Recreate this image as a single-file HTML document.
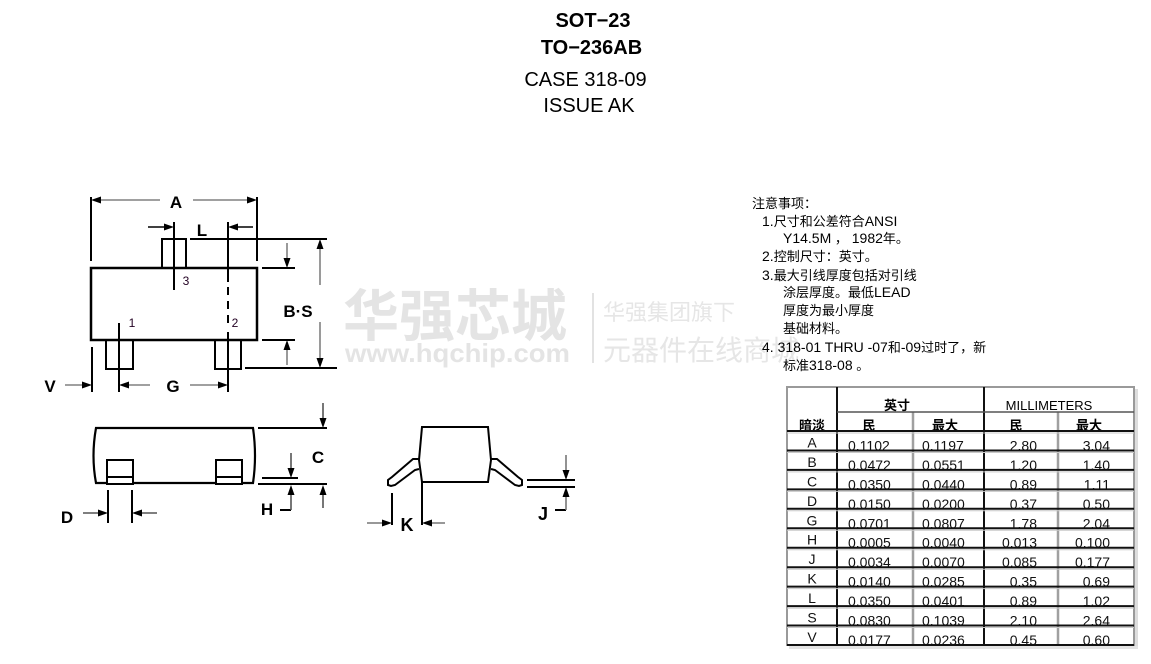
<!DOCTYPE html>
<html><head><meta charset="utf-8">
<style>
html,body{margin:0;padding:0;background:#fff;}
body{width:1151px;height:664px;overflow:hidden;}
svg{display:block;}
</style></head>
<body>
<svg width="1151" height="664" viewBox="0 0 1151 664" xmlns="http://www.w3.org/2000/svg">
<!-- watermark -->
<g font-family="'Noto Sans CJK SC','WenQuanYi Zen Hei',sans-serif">
  <text x="343" y="336" font-size="56" font-weight="bold" fill="#e4e4e4">华强芯城</text>
  <text x="345" y="362" font-size="26" font-weight="bold" fill="#e4e4e4" font-family="'Liberation Sans',sans-serif" textLength="225" lengthAdjust="spacingAndGlyphs">www.hqchip.com</text>
  <rect x="592" y="293" width="2" height="70" fill="#e2e2e2"/>
  <text x="603" y="320" font-size="22" fill="#e6e6e6">华强集团旗下</text>
  <text x="603" y="360" font-size="28" fill="#e6e6e6">元器件在线商城</text>
</g>

<!-- titles -->
<g font-family="'Liberation Sans',sans-serif" fill="#000" text-anchor="middle">
  <text x="593" y="27" font-size="20" font-weight="bold">SOT−23</text>
  <text x="591.5" y="54" font-size="20" font-weight="bold">TO−236AB</text>
  <text x="585.5" y="86" font-size="20">CASE 318-09</text>
  <text x="589" y="112" font-size="20">ISSUE AK</text>
</g>

<!-- ===== TOP VIEW ===== -->
<g fill="none" stroke="#000">
  <rect x="91" y="268" width="166" height="72" stroke-width="2.5"/>
  <rect x="162" y="239" width="24" height="29" stroke-width="2"/>
  <rect x="106" y="340" width="27" height="29" stroke-width="2"/>
  <rect x="215" y="340" width="26" height="29" stroke-width="2"/>
  <line x1="91" y1="197" x2="91" y2="261" stroke-width="2"/>
  <line x1="257" y1="197" x2="257" y2="261" stroke-width="2"/>
  <line x1="174" y1="222" x2="174" y2="290" stroke-width="2"/>
  <line x1="228" y1="222" x2="228" y2="282" stroke-width="2"/>
  <line x1="228" y1="287" x2="228" y2="295" stroke-width="2"/>
  <line x1="228" y1="301" x2="228" y2="309" stroke-width="2"/>
  <line x1="228" y1="315" x2="228" y2="323" stroke-width="2"/>
  <line x1="228" y1="332" x2="228" y2="392" stroke-width="2"/>
  <line x1="190" y1="239" x2="327" y2="239" stroke-width="2"/>
  <line x1="262" y1="268" x2="295" y2="268" stroke-width="2"/>
  <line x1="262" y1="340" x2="295" y2="340" stroke-width="2"/>
  <line x1="245" y1="368" x2="337" y2="368" stroke-width="2"/>
  <line x1="119" y1="323" x2="119" y2="392" stroke-width="2"/>
  <line x1="92" y1="347" x2="92" y2="392" stroke-width="2"/>
</g>
<g stroke="#808080" stroke-width="1.6" fill="none">
  <line x1="95" y1="200" x2="160" y2="200"/>
  <line x1="193" y1="200" x2="253" y2="200"/>
  <line x1="148" y1="227" x2="170" y2="227" stroke="#000"/>
  <line x1="253" y1="227" x2="232" y2="227" stroke="#000"/>
  <line x1="287" y1="243" x2="287" y2="262"/>
  <line x1="287" y1="365" x2="287" y2="346"/>
  <line x1="320" y1="245" x2="320" y2="285"/>
  <line x1="320" y1="322" x2="320" y2="362"/>
  <line x1="65" y1="385" x2="88" y2="385"/>
  <line x1="123" y1="385" x2="150" y2="385"/>
  <line x1="190" y1="385" x2="224" y2="385"/>
</g>
<g fill="#000">
  <polygon points="91,200 101,196.5 101,203.5"/>
  <polygon points="257,200 247,196.5 247,203.5"/>
  <polygon points="174,227 164,223.5 164,230.5"/>
  <polygon points="228,227 238,223.5 238,230.5"/>
  <polygon points="287,268 283.5,258 290.5,258"/>
  <polygon points="287,340 283.5,350 290.5,350"/>
  <polygon points="320,239 316.5,249 323.5,249"/>
  <polygon points="320,368 316.5,358 323.5,358"/>
  <polygon points="92,385 82,381.5 82,388.5"/>
  <polygon points="119,385 129,381.5 129,388.5"/>
  <polygon points="228,385 218,381.5 218,388.5"/>
</g>
<g font-family="'Liberation Sans',sans-serif" font-weight="bold" font-size="17" fill="#000" text-anchor="middle">
  <text x="176" y="208">A</text>
  <text x="202" y="236">L</text>
  <text x="298" y="317">B·S</text>
  <text x="50" y="392">V</text>
  <text x="173" y="392">G</text>
</g>
<g font-family="'Liberation Sans',sans-serif" font-size="12" fill="#202" text-anchor="middle">
  <text x="186" y="285">3</text>
  <text x="132" y="327">1</text>
  <text x="235" y="327">2</text>
</g>

<!-- ===== SIDE VIEW ===== -->
<g fill="none" stroke="#000" stroke-width="2">
  <path d="M96,428 L253,428 Q257,456 253,483 L96,483 Q91,456 96,428 Z" stroke-width="2.2"/>
  <rect x="107" y="460" width="26" height="24" fill="#fff"/>
  <line x1="107" y1="477" x2="133" y2="477"/>
  <rect x="216" y="460" width="26" height="24" fill="#fff"/>
  <line x1="216" y1="477" x2="242" y2="477"/>
  <line x1="258" y1="428" x2="327" y2="428"/>
  <line x1="258" y1="484" x2="327" y2="484"/>
  <line x1="262" y1="478" x2="298" y2="478"/>
  <line x1="280" y1="510" x2="291" y2="510"/>
  <line x1="108" y1="490" x2="108" y2="523"/>
  <line x1="132" y1="490" x2="132" y2="523"/>
</g>
<g stroke="#555" stroke-width="1.6" fill="none">
  <line x1="323" y1="403" x2="323" y2="422"/>
  <line x1="323" y1="508" x2="323" y2="491"/>
  <line x1="291" y1="453" x2="291" y2="472"/>
  <line x1="291" y1="510" x2="291" y2="491"/>
  <line x1="83" y1="513" x2="102" y2="513"/>
  <line x1="157" y1="513" x2="138" y2="513"/>
</g>
<g fill="#000">
  <polygon points="323,428 319.5,418 326.5,418"/>
  <polygon points="323,485 319.5,495 326.5,495"/>
  <polygon points="291,478 287.5,468 294.5,468"/>
  <polygon points="291,485 287.5,495 294.5,495"/>
  <polygon points="108,513 98,509.5 98,516.5"/>
  <polygon points="132,513 142,509.5 142,516.5"/>
</g>
<g font-family="'Liberation Sans',sans-serif" font-weight="bold" font-size="17" fill="#000" text-anchor="middle">
  <text x="318" y="463">C</text>
  <text x="267" y="515">H</text>
  <text x="67" y="523">D</text>
</g>

<!-- ===== END VIEW ===== -->
<g fill="none" stroke="#000" stroke-width="2">
  <path d="M422,427 L488,427 L491,460 L488,482 L422,482 L419,460 Z"/>
  <path d="M419,459 L413,459 L392,477 L388,480 L388,485 L391,486 L395,485 L415,470 L419,469"/>
  <path d="M491,459 L497,459 L518,477 L522,480 L522,485 L519,486 L515,485 L495,470 L491,469"/>
  <line x1="392" y1="493" x2="392" y2="525"/>
  <line x1="422" y1="482" x2="422" y2="525"/>
  <line x1="527" y1="480" x2="575" y2="480"/>
  <line x1="527" y1="487" x2="575" y2="487"/>
  <line x1="555" y1="510" x2="566" y2="510"/>
</g>
<g stroke="#777" stroke-width="1.6" fill="none">
  <line x1="367" y1="523" x2="386" y2="523"/>
  <line x1="445" y1="523" x2="428" y2="523"/>
  <line x1="566" y1="455" x2="566" y2="474"/>
  <line x1="566" y1="510" x2="566" y2="493"/>
</g>
<g fill="#000">
  <polygon points="392,523 382,519.5 382,526.5"/>
  <polygon points="422,523 432,519.5 432,526.5"/>
  <polygon points="566,480 562.5,470 569.5,470"/>
  <polygon points="566,487 562.5,497 569.5,497"/>
</g>
<g font-family="'Liberation Sans',sans-serif" font-size="18" font-weight="bold" fill="#000" text-anchor="middle">
  <text x="407" y="531">K</text>
  <text x="543" y="520">J</text>
</g>

<!-- ===== NOTES ===== -->
<g font-family="'Liberation Sans','Noto Sans CJK SC',sans-serif" font-size="13" fill="#000">
  <text x="752" y="208">注意事项：</text>
  <text x="762" y="226"><tspan font-size="14">1.</tspan>尺寸和公差符合<tspan font-size="14">ANSI</tspan></text>
  <text x="783" y="243"><tspan font-size="14">Y14.5M</tspan> ，<tspan font-size="14"> 1982</tspan>年。</text>
  <text x="762" y="261"><tspan font-size="14">2.</tspan>控制尺寸：英寸。</text>
  <text x="762" y="280"><tspan font-size="14">3.</tspan>最大引线厚度包括对引线</text>
  <text x="783" y="297">涂层厚度。最低<tspan font-size="14">LEAD</tspan></text>
  <text x="783" y="315">厚度为最小厚度</text>
  <text x="783" y="333">基础材料。</text>
  <text x="762" y="352"><tspan font-size="14">4. 318-01 THRU -07</tspan>和<tspan font-size="14">-09</tspan>过时了，新</text>
  <text x="783" y="370">标准<tspan font-size="14">318-08</tspan> 。</text>
</g>

<!-- ===== TABLE ===== -->
<g>
  <rect x="1135" y="389" width="3" height="258" fill="#ddd"/>
  <rect x="789" y="646" width="349" height="3" fill="#e4e4e4"/>
  <g font-family="'Liberation Sans','Noto Sans CJK SC',sans-serif" font-size="13" fill="#000" text-anchor="middle">
    <text x="897" y="410" font-weight="bold">英寸</text>
    <text x="1049" y="410">MILLIMETERS</text>
    <text x="812" y="430" font-weight="bold">暗淡</text>
    <text x="869" y="430" font-weight="bold">民</text>
    <text x="945" y="430" font-weight="bold">最大</text>
    <text x="1016" y="430" font-weight="bold">民</text>
    <text x="1089" y="430" font-weight="bold">最大</text>
  </g>
  <g font-family="'Liberation Sans',sans-serif" font-size="14" fill="#111">
    <g text-anchor="middle">
      <text x="812" y="447.5">A</text>
      <text x="812" y="467">B</text>
      <text x="812" y="486.4">C</text>
      <text x="812" y="505.8">D</text>
      <text x="812" y="525.3">G</text>
      <text x="812" y="544.7">H</text>
      <text x="812" y="564.2">J</text>
      <text x="812" y="583.6">K</text>
      <text x="812" y="603.1">L</text>
      <text x="812" y="622.5">S</text>
      <text x="812" y="642">V</text>
    </g>
    <g>
      <text x="848" y="450.5">0.1102</text><text x="922" y="450.5">0.1197</text>
      <text x="848" y="470">0.0472</text><text x="922" y="470">0.0551</text>
      <text x="848" y="489.4">0.0350</text><text x="922" y="489.4">0.0440</text>
      <text x="848" y="508.8">0.0150</text><text x="922" y="508.8">0.0200</text>
      <text x="848" y="528.3">0.0701</text><text x="922" y="528.3">0.0807</text>
      <text x="848" y="547.7">0.0005</text><text x="922" y="547.7">0.0040</text>
      <text x="848" y="567.2">0.0034</text><text x="922" y="567.2">0.0070</text>
      <text x="848" y="586.6">0.0140</text><text x="922" y="586.6">0.0285</text>
      <text x="848" y="606.1">0.0350</text><text x="922" y="606.1">0.0401</text>
      <text x="848" y="625.5">0.0830</text><text x="922" y="625.5">0.1039</text>
      <text x="848" y="645">0.0177</text><text x="922" y="645">0.0236</text>
    </g>
    <g text-anchor="end">
      <text x="1037" y="450.5">2.80</text><text x="1110" y="450.5">3.04</text>
      <text x="1037" y="470">1.20</text><text x="1110" y="470">1.40</text>
      <text x="1037" y="489.4">0.89</text><text x="1110" y="489.4">1.11</text>
      <text x="1037" y="508.8">0.37</text><text x="1110" y="508.8">0.50</text>
      <text x="1037" y="528.3">1.78</text><text x="1110" y="528.3">2.04</text>
      <text x="1037" y="547.7">0.013</text><text x="1110" y="547.7">0.100</text>
      <text x="1037" y="567.2">0.085</text><text x="1110" y="567.2">0.177</text>
      <text x="1037" y="586.6">0.35</text><text x="1110" y="586.6">0.69</text>
      <text x="1037" y="606.1">0.89</text><text x="1110" y="606.1">1.02</text>
      <text x="1037" y="625.5">2.10</text><text x="1110" y="625.5">2.64</text>
      <text x="1037" y="645">0.45</text><text x="1110" y="645">0.60</text>
    </g>
  </g>
  <g fill="none">
    <rect x="787" y="387" width="347" height="258" stroke="#9a9a9a" stroke-width="2"/>
    <line x1="913" y1="412" x2="913" y2="645" stroke="#a0a0a0" stroke-width="2.5"/>
    <line x1="1058" y1="412" x2="1058" y2="645" stroke="#a0a0a0" stroke-width="2.5"/>
    <line x1="837" y1="387" x2="837" y2="645" stroke="#111" stroke-width="2"/>
    <line x1="984" y1="387" x2="984" y2="645" stroke="#111" stroke-width="2"/>
    <line x1="837" y1="412" x2="1134" y2="412" stroke="#555" stroke-width="1.5"/>
    <g stroke="#c8c8c8" stroke-width="1">
      <line x1="787" y1="433" x2="1134" y2="433"/>
      <line x1="787" y1="452.5" x2="1134" y2="452.5"/>
      <line x1="787" y1="471.9" x2="1134" y2="471.9"/>
      <line x1="787" y1="491.4" x2="1134" y2="491.4"/>
      <line x1="787" y1="510.8" x2="1134" y2="510.8"/>
      <line x1="787" y1="530.3" x2="1134" y2="530.3"/>
      <line x1="787" y1="549.7" x2="1134" y2="549.7"/>
      <line x1="787" y1="569.2" x2="1134" y2="569.2"/>
      <line x1="787" y1="588.6" x2="1134" y2="588.6"/>
      <line x1="787" y1="608.1" x2="1134" y2="608.1"/>
      <line x1="787" y1="627.5" x2="1134" y2="627.5"/>
    </g>
    <g stroke="#111" stroke-width="2">
      <line x1="787" y1="431" x2="1134" y2="431"/>
      <line x1="787" y1="450.5" x2="1134" y2="450.5"/>
      <line x1="787" y1="469.9" x2="1134" y2="469.9"/>
      <line x1="787" y1="489.4" x2="1134" y2="489.4"/>
      <line x1="787" y1="508.8" x2="1134" y2="508.8"/>
      <line x1="787" y1="528.3" x2="1134" y2="528.3"/>
      <line x1="787" y1="547.7" x2="1134" y2="547.7"/>
      <line x1="787" y1="567.2" x2="1134" y2="567.2"/>
      <line x1="787" y1="586.6" x2="1134" y2="586.6"/>
      <line x1="787" y1="606.1" x2="1134" y2="606.1"/>
      <line x1="787" y1="625.5" x2="1134" y2="625.5"/>
      <line x1="787" y1="645" x2="1134" y2="645"/>
    </g>
  </g>
</g>
</svg>
</body></html>
